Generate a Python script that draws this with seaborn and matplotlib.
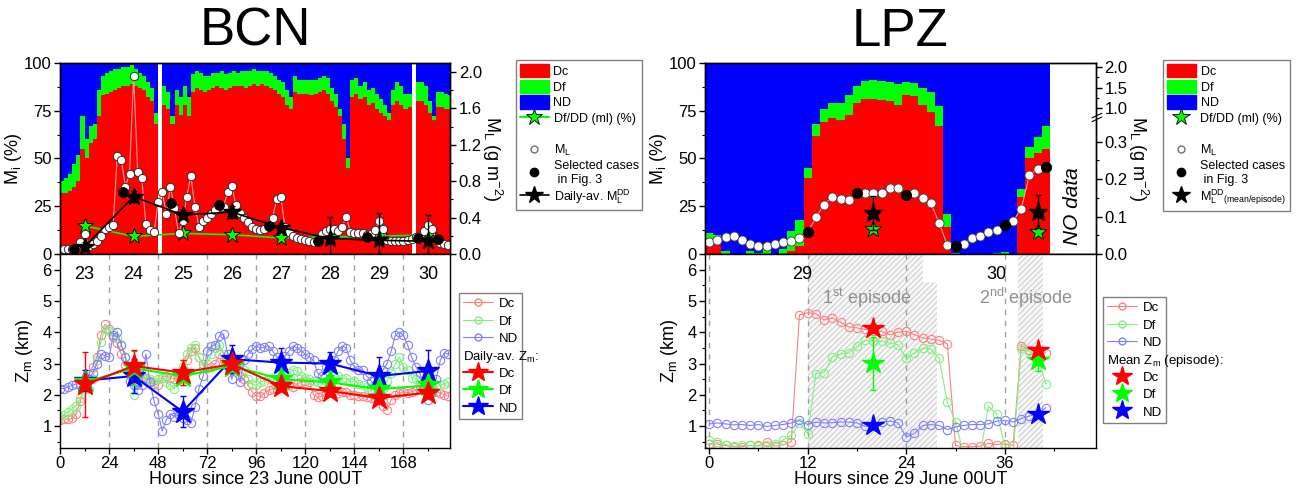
import numpy as np
import matplotlib
matplotlib.use('Agg')
import matplotlib.pyplot as plt
from matplotlib.patches import Patch
from matplotlib.lines import Line2D
from matplotlib.ticker import MultipleLocator, FixedLocator, FormatStrFormatter, NullFormatter
import seaborn as sns

nan = np.nan

# ---------------- BCN (2-hourly bins, hours since 23 June 00UT) ----------------
bcn_hours = np.arange(0, 192, 2)
bcn_dc = [32, 32, 33, 35, 38, 55, 50, 58, 60, 72, 83, 84,
          85, 86, 87, 88, 88, 89, 88, 87, 86, 82, 80, 68,
          nan, 78, 76, 68, 78, 73, 78, 72, 85, 87, 86, 85,
          86, 87, 88, 87, 86, 87, 88, 88, 88, 87, 88, 89,
          88, 89, 88, 87, 86, 84, 82, 78, 76, 85, 84, 84,
          84, 83, 84, 85, 86, 84, 80, 77, 72, 60, 45, 82,
          84, 81, 82, 78, 79, 76, 74, 72, 70, 78, 80, 78,
          76, 77, nan, 80, 80, 78, 74, 70, 77, 77, 76, 76]
bcn_df = [6, 8, 9, 12, 14, 17, 10, 9, 8, 14, 10, 11,
          11, 11, 10, 10, 10, 10, 9, 8, 7, 8, 7, 6,
          nan, 10, 9, 4, 8, 9, 10, 10, 9, 9, 9, 8,
          7, 8, 7, 9, 8, 8, 8, 7, 8, 9, 8, 8,
          8, 7, 8, 8, 7, 7, 8, 8, 6, 8, 7, 7,
          7, 8, 7, 7, 7, 8, 7, 7, 4, 8, 5, 9,
          8, 7, 8, 8, 8, 8, 7, 6, 4, 8, 10, 10,
          8, 7, nan, 10, 10, 10, 6, 2, 8, 8, 8, 7]
bcn_ml = [0.05, 0.05, 0.05, 0.05, 0.07, 0.13, 0.22, 0.09, 0.11, 0.14, 0.2, 0.27,
          0.3, 0.32, 1.08, 1.03, 0.74, 0.88, 1.96, 0.9, 0.83, 0.33, 0.26, 0.24,
          0.57, 0.68, 0.44, 0.74, 0.5, 0.23, 0.36, 0.63, 0.86, 0.52, 0.3, 0.36,
          0.4, 0.44, 0.48, 0.55, 0.52, 0.68, 0.75, 0.54, 0.45, 0.4, 0.35, 0.3,
          0.27, 0.26, 0.28, 0.33, 0.4, 0.6, 0.63, 0.3, 0.24, 0.2, 0.18, 0.16,
          0.15, 0.14, 0.13, 0.13, 0.22, 0.25, 0.27, 0.27, 0.25, 0.3, 0.41, 0.24,
          0.23, 0.23, 0.23, 0.21, 0.22, 0.26, 0.36, 0.28, 0.15, 0.14, 0.14, 0.14,
          0.14, 0.15, 0.17, 0.19, 0.2, 0.25, 0.32, 0.28, 0.16, 0.12, 0.11, 0.1]
bcn_sel_hours = [7, 31, 54.5, 78, 102, 126, 150, 175, 185]
bcn_sel_ml = [0.05, 0.68, 0.56, 0.54, 0.31, 0.14, 0.19, 0.18, 0.16]

bcn_day_hours = [12, 36, 60, 84, 108, 132, 156, 180]
bcn_day_labels = ['23', '24', '25', '26', '27', '28', '29', '30']
bcn_mldd = [0.08, 0.63, 0.43, 0.46, 0.29, 0.17, 0.15, 0.14]
bcn_mldd_err = [0.05, 0.06, 0.05, 0.07, 0.05, 0.24, 0.3, 0.29]
bcn_dfdd = [14.8, 9.2, 10.8, 10.1, 8.4, 9.0, 9.3, 10.0]

bcn_zm_dc = [1.2, 1.22, 1.22, 1.25, 1.4, 1.8, 2.4, 2.65, 2.9, 3.2, 3.9, 4.25,
             4.1, 3.85, 3.65, 3.3, 2.95, 2.8, 2.8, 2.7, 2.6, 2.55, 2.45, 2.35,
             2.3, 2.55, 2.6, 2.55, 2.5, 2.6, 2.8, 3.1, 3.4, 3.5, 3.2, 3.0,
             2.85, 2.9, 3.0, 3.3, 3.1, 2.9, 2.8, 2.85, 2.6, 2.5, 2.3, 2.1,
             1.97, 1.95, 2.05, 2.15, 2.2, 2.2, 2.25, 2.3, 2.3, 2.25, 2.35, 2.4,
             2.45, 2.4, 2.0, 1.92, 1.95, 2.05, 2.1, 2.12, 2.05, 2.1, 2.1, 2.0,
             2.0, 1.95, 1.95, 1.92, 1.9, 1.88, 1.85, 1.65, 1.5, 1.85, 2.0, 2.05,
             2.1, 2.05, 2.1, 2.15, 2.2, 2.15, 2.2, 2.1, 2.1, 2.05, 2.0, 1.95]
bcn_zm_df = [1.3, 1.35, 1.45, 1.55, 1.65, 1.9, 2.2, 2.2, 2.5, 3.1, 3.7, 4.1,
             4.05, 4.0, 3.8, 3.6, 3.2, 2.9, 2.0, 2.4, 2.6, 2.5, 2.5, 2.4,
             2.5, 2.55, 2.4, 2.3, 2.2, 2.5, 2.9, 3.3, 3.5, 3.6, 3.2, 2.9,
             3.0, 3.3, 3.5, 3.6, 3.3, 3.1, 2.9, 3.0, 3.0, 2.8, 2.5, 2.35,
             2.3, 2.4, 2.45, 2.5, 2.5, 2.45, 2.5, 2.6, 2.7, 2.8, 2.75, 2.6,
             2.55, 2.5, 2.45, 2.4, 2.35, 2.45, 2.5, 2.6, 2.6, 2.5, 2.55, 2.4,
             2.45, 2.35, 2.3, 2.25, 2.2, 2.15, 2.1, 2.2, 2.45, 2.7, 3.0, 3.2,
             2.9, 2.8, 2.55, 2.5, 2.4, 2.3, 2.2, 2.2, 2.25, 2.3, 2.35, 2.4]
bcn_zm_nd = [2.2, 2.2, 2.25, 2.3, 2.35, 2.35, 2.4, 2.5, 2.7, 3.0, 3.3, 3.25,
             3.2, 3.9, 4.0, 3.6, 3.2, 2.45, 2.3, 2.15, 2.3, 3.3, 2.4, 1.8,
             1.4, 0.85, 1.2, 1.4, 1.3, 1.35, 1.25, 1.2, 1.1, 1.6, 2.2, 2.6,
             3.4, 3.55, 3.6, 3.88, 3.94, 3.3, 2.5, 2.9, 2.4, 3.1, 3.3, 3.45,
             3.55, 3.5, 3.52, 3.56, 3.4, 3.2, 3.14, 3.25, 3.4, 3.56, 3.5, 3.4,
             3.3, 3.2, 3.1, 2.7, 2.6, 2.9, 2.85, 3.1, 3.4, 3.56, 3.5, 3.1,
             2.9, 2.8, 2.8, 2.6, 2.45, 2.3, 2.6, 2.8, 3.0, 3.4, 3.9, 4.0,
             3.9, 3.6, 3.2, 2.9, 2.7, 2.2, 1.85, 2.1, 2.5, 3.1, 3.35, 3.3]
bcn_day_dc = [2.33, 2.92, 2.71, 2.98, 2.28, 2.12, 1.9, 2.07]
bcn_day_dc_err = [1.03, 0.5, 0.4, 0.15, 0.15, 0.15, 0.15, 0.15]
bcn_day_df = [2.4, 2.85, 2.6, 2.92, 2.5, 2.4, 2.18, 2.3]
bcn_day_df_err = [0.2, 0.55, 0.2, 0.15, 0.2, 0.2, 0.2, 0.2]
bcn_day_nd = [2.45, 2.6, 1.46, 3.14, 3.03, 3.0, 2.6, 2.76]
bcn_day_nd_err = [0.33, 0.55, 0.5, 0.45, 0.47, 0.36, 0.62, 0.68]

# ---------------- LPZ (hourly, hours since 29 June 00UT) ----------------
lpz_hours = np.arange(0, 42)
lpz_dc = [4, 5, 0, 0, 0, 0, 0, 0, 0, 0,
          1.5, 4, 40, 62, 69, 71, 70, 73, 79, 81,
          81, 80.5, 80, 78, 83.5, 82.5, 78, 74.5, 67, 14,
          0, 0, 0, 0, 0, 0, 0, 0, 30, 50,
          53, 55]
lpz_df = [7, 5, 1.5, 0, 0, 1.5, 0.5, 3, 0, 2.5,
          10.5, 14, 5, 6, 7, 8, 9, 10, 9, 9.5,
          10, 10, 10, 11, 6.5, 7, 9, 10.5, 10.5, 7,
          0.7, 0, 0, 0, 0, 0.5, 1, 0, 4, 6,
          8, 12]
lpz_ml = [0.031, 0.038, 0.045, 0.047, 0.038, 0.027, 0.022, 0.022, 0.027, 0.031,
          0.035, 0.042, 0.058, 0.098, 0.132, 0.153, 0.146, 0.144, 0.162, 0.164,
          0.164, 0.162, 0.175, 0.177, 0.158, 0.162, 0.149, 0.135, 0.083, 0.023,
          0.022, 0.027, 0.042, 0.049, 0.058, 0.063, 0.078, 0.087, 0.121, 0.211,
          0.227, 0.233]
lpz_sel_hours = [12, 18, 24, 30, 36, 41]
lpz_sel_ml = [0.058, 0.162, 0.158, 0.022, 0.078, 0.233]

lpz_ep_hours = [20, 40]
lpz_mldd = [0.11, 0.113]
lpz_mldd_err = [0.045, 0.044]
lpz_dfdd = [13.1, 11.7]

lpz_zm_dc = [0.43, 0.43, 0.38, 0.34, 0.34, 0.38, 0.38, 0.48, 0.36, 0.4,
             0.5, 4.55, 4.62, 4.59, 4.39, 4.46, 4.32, 4.17, 4.14, 4.09,
             4.05, 4.03, 3.92, 4.0, 4.03, 3.92, 3.82, 3.78, 3.74, 3.63,
             0.38, 0.34, 0.34, 0.36, 0.45, 0.41, 0.43, 0.38, 3.57, 3.44,
             3.44, 3.33]
lpz_zm_df = [0.56, 0.48, 0.41, 0.36, 0.38, 0.38, 0.36, 0.38, 0.43, 0.56,
             0.7, 1.1, 0.75, 2.67, 2.71, 3.2, 3.31, 3.33, 3.55, 3.74,
             3.73, 3.71, 3.66, 3.6, 3.17, 3.33, 3.49, 3.46, 3.17, 1.77,
             1.13, 0.1, 0.1, 0.1, 1.63, 1.4, 0.38, 0.1, 3.49, 3.39,
             3.2, 2.34]
lpz_zm_nd = [1.07, 1.1, 1.07, 1.04, 1.05, 1.02, 1.05, 0.99, 1.02, 1.05,
             1.1, 1.18, 1.05, 1.13, 1.1, 1.11, 1.13, 1.13, 1.1, 0.99,
             1.0, 1.13, 1.16, 1.1, 0.65, 0.77, 1.02, 1.05, 1.02, 0.89,
             0.97, 1.02, 1.05, 1.05, 1.07, 1.16, 1.18, 1.13, 1.24, 1.32,
             1.4, 1.59]
lpz_ep_dc = [4.12, 3.44]
lpz_ep_dc_err = [0.15, 0.1]
lpz_ep_df = [3.01, 3.12]
lpz_ep_df_err = [0.85, 0.35]
lpz_ep_nd = [1.02, 1.38]
lpz_day_hours = [11.3, 35]
lpz_day_labels = ['29', '30']
episodes = [(12, 27.8), (37.6, 40.7)]

# ---------------- style ----------------
sns.set_style('ticks')
plt.rcParams['font.family'] = ['Liberation Sans', 'DejaVu Sans']
plt.rcParams['mathtext.fontset'] = 'custom'
plt.rcParams['mathtext.rm'] = 'Liberation Sans'
plt.rcParams['mathtext.it'] = 'Liberation Sans:italic'
plt.rcParams['mathtext.bf'] = 'Liberation Sans:bold'
plt.rcParams['axes.edgecolor'] = 'black'
plt.rcParams['axes.labelcolor'] = 'black'
plt.rcParams['text.color'] = 'black'
plt.rcParams['xtick.color'] = 'black'
plt.rcParams['ytick.color'] = 'black'
plt.rcParams['hatch.linewidth'] = 0.6

RED, GREEN, BLUE = '#FF0000', '#00FF00', '#0000FF'
LRED, LGREEN, LBLUE = '#FF8080', '#80F080', '#8080FF'
PINK = '#FF9999'

W, H = 1297, 490
fig = plt.figure(figsize=(W / 100, H / 100), dpi=100)


def style(ax):
    for s in ax.spines.values():
        s.set_linewidth(1.0)
        s.set_color('black')
    ax.tick_params(which='major', direction='out', length=4, width=1, labelsize=12, pad=2)
    ax.tick_params(which='minor', direction='out', length=2.5, width=0.8)


def box(l, t, r, b):
    return [l / W, 1 - b / H, (r - l) / W, (b - t) / H]


def legend(ax, handles, labels, x, y, fs=9, hh=1.0, ls=0.25):
    leg = ax.legend(handles, labels, loc='upper left', bbox_to_anchor=(x / W, 1 - y / H),
                    bbox_transform=fig.transFigure, borderaxespad=0, frameon=True,
                    fancybox=False, edgecolor='#808080', framealpha=1, fontsize=fs,
                    handlelength=2.3, handletextpad=0.4, borderpad=0.3,
                    handleheight=hh, labelspacing=ls)
    leg.get_frame().set_linewidth(1.0)
    return leg


def stacked(ax, x, dc, df, width, align):
    dc = np.asarray(dc, float)
    df = np.asarray(df, float)
    ax.bar(x, dc, width=width, align=align, color=RED, lw=0, antialiased=False)
    ax.bar(x, df, bottom=dc, width=width, align=align, color=GREEN, lw=0, antialiased=False)
    ax.bar(x, 100 - dc - df, bottom=dc + df, width=width, align=align, color=BLUE, lw=0,
           antialiased=False)


def zm_series(ax, x, y, c):
    sns.lineplot(x=x, y=y, ax=ax, color=c, lw=0.8, marker='o', markersize=6,
                 markerfacecolor='none', markeredgecolor=c, markeredgewidth=0.8)


LAB = 13

# ================= BCN top =================
ax = fig.add_axes(box(60, 63, 450.5, 254))
stacked(ax, bcn_hours, bcn_dc, bcn_df, 2.02, 'edge')
sns.lineplot(x=bcn_day_hours, y=bcn_dfdd, ax=ax, color=GREEN, lw=1.2, marker='*',
             markersize=12, markerfacecolor=GREEN, markeredgecolor='black',
             markeredgewidth=0.6, zorder=4)
ax.set_xlim(0, 191)
ax.set_ylim(0, 100)
ax.yaxis.set_major_locator(MultipleLocator(25))
ax.yaxis.set_minor_locator(MultipleLocator(12.5))
ax.xaxis.set_major_locator(MultipleLocator(24))
ax.xaxis.set_minor_locator(MultipleLocator(12))
ax.set_xticklabels([])
ax.set_ylabel('M$_\\mathrm{i}$ (%)', fontsize=LAB, labelpad=0)
style(ax)

ax2 = ax.twinx()
sns.lineplot(x=bcn_hours, y=bcn_ml, ax=ax2, color=PINK, lw=0.8, marker='o', markersize=6,
             markerfacecolor='white', markeredgecolor='#303030', markeredgewidth=0.7)
sns.scatterplot(x=bcn_sel_hours, y=bcn_sel_ml, ax=ax2, color='black', s=50,
                edgecolor='black', zorder=5)
ax2.errorbar(bcn_day_hours, bcn_mldd, yerr=bcn_mldd_err, color='black', lw=1.2,
             marker='*', ms=13, capsize=2, elinewidth=1, zorder=6)
ax2.set_xlim(0, 191)
ax2.set_ylim(0, 2.098)
ax2.yaxis.set_major_locator(MultipleLocator(0.4))
ax2.yaxis.set_minor_locator(MultipleLocator(0.2))
ax2.yaxis.set_major_formatter(FormatStrFormatter('%.1f'))
ax2.set_ylabel('M$_\\mathrm{L}$ (g m$^{-2}$)', fontsize=LAB, rotation=270, labelpad=16)
style(ax2)

legend(ax2,
       [Patch(color=RED), Patch(color=GREEN), Patch(color=BLUE),
        Line2D([], [], color=GREEN, marker='*', ms=12, mfc=GREEN, mec='black', mew=0.6),
        Line2D([], [], color='none'),
        Line2D([], [], ls='none', marker='o', ms=5, mfc='white', mec='#707070'),
        Line2D([], [], ls='none', marker='o', ms=6, color='black'),
        Line2D([], [], color='black', marker='*', ms=13, lw=1.2)],
       ['Dc', 'Df', 'ND', 'Df/DD (ml) (%)', ' ', 'M$_\\mathrm{L}$',
        'Selected cases\n in Fig. 3', 'Daily-av. M$_\\mathrm{L}^\\mathrm{DD}$'],
       516, 60, fs=9, hh=1.3, ls=0.15)

fig.text(255 / W, 1 - 32 / H, 'BCN', fontsize=38, ha='center', va='center')

# ================= BCN bottom =================
axb = fig.add_axes(box(60, 254, 450.5, 448))
for h in bcn_day_hours:
    axb.axvline(h + 12, color='#A0A0A0', ls=(0, (4, 4)), lw=1, zorder=0)
zm_series(axb, bcn_hours, bcn_zm_dc, LRED)
zm_series(axb, bcn_hours, bcn_zm_df, LGREEN)
zm_series(axb, bcn_hours, bcn_zm_nd, LBLUE)
for vals, err, c in [(bcn_day_nd, bcn_day_nd_err, BLUE), (bcn_day_df, bcn_day_df_err, GREEN),
                     (bcn_day_dc, bcn_day_dc_err, RED)]:
    axb.errorbar(bcn_day_hours, vals, yerr=err, color=c, lw=1.5, marker='*', ms=17,
                 capsize=2, elinewidth=1, zorder=5)
for h, lab in zip(bcn_day_hours, bcn_day_labels):
    axb.text(h, 5.85, lab, ha='center', va='center', fontsize=13)
axb.set_xlim(0, 191)
axb.set_ylim(0.3, 6.5)
axb.xaxis.set_major_locator(MultipleLocator(24))
axb.xaxis.set_minor_locator(MultipleLocator(12))
axb.yaxis.set_major_locator(MultipleLocator(1))
axb.yaxis.set_minor_locator(MultipleLocator(0.5))
axb.set_xlabel('Hours since 23 June 00UT', fontsize=LAB, labelpad=0)
axb.set_ylabel('Z$_\\mathrm{m}$ (km)', fontsize=LAB, labelpad=5)
style(axb)

leg_b = legend(axb,
               [Line2D([], [], color=LRED, marker='o', ms=5, mfc='none', lw=0.8),
                Line2D([], [], color=LGREEN, marker='o', ms=5, mfc='none', lw=0.8),
                Line2D([], [], color=LBLUE, marker='o', ms=5, mfc='none', lw=0.8),
                Line2D([], [], color='none'),
                Line2D([], [], color=RED, marker='*', ms=15, lw=1.5),
                Line2D([], [], color=GREEN, marker='*', ms=15, lw=1.5),
                Line2D([], [], color=BLUE, marker='*', ms=15, lw=1.5)],
               ['Dc', 'Df', 'ND', ' ', 'Dc', 'Df', 'ND'], 459, 293, fs=9.5, hh=1.0, ls=0.3)

# ================= LPZ top =================
axl = fig.add_axes(box(705, 63, 1096, 254))
stacked(axl, lpz_hours, lpz_dc, lpz_df, 1.02, 'center')
sns.scatterplot(x=lpz_ep_hours, y=lpz_dfdd, ax=axl, marker='*', s=170, color=GREEN,
                edgecolor='black', linewidth=0.6, zorder=4)
axl.text(44.3, 25, 'NO data', rotation=90, ha='center', va='center', fontsize=15,
         style='italic')
axl.set_xlim(-0.5, 47.1)
axl.set_ylim(0, 100)
axl.yaxis.set_major_locator(MultipleLocator(25))
axl.yaxis.set_minor_locator(MultipleLocator(12.5))
axl.xaxis.set_major_locator(MultipleLocator(12))
axl.xaxis.set_minor_locator(MultipleLocator(6))
axl.set_xticklabels([])
axl.set_ylabel('M$_\\mathrm{i}$ (%)', fontsize=LAB, labelpad=0)
style(axl)

knots_v = [-1, 0, 0.35, 1.0, 3.0]
knots_u = [-3.75, 0, 1.3125, 1.46, 2.28]


def fwd(v):
    return np.interp(v, knots_v, knots_u)


def inv(u):
    return np.interp(u, knots_u, knots_v)


axl2 = axl.twinx()
axl2.set_yscale('function', functions=(fwd, inv))
sns.lineplot(x=lpz_hours, y=lpz_ml, ax=axl2, color=PINK, lw=0.8, marker='o', markersize=6.5,
             markerfacecolor='white', markeredgecolor='#404040', markeredgewidth=0.6)
sns.scatterplot(x=lpz_sel_hours, y=lpz_sel_ml, ax=axl2, color='black', s=55,
                edgecolor='black', zorder=5)
axl2.errorbar(lpz_ep_hours, lpz_mldd, yerr=lpz_mldd_err, color='black', ls='none',
              marker='*', ms=14, capsize=2, elinewidth=1, zorder=6)
axl2.set_xlim(-0.5, 47.1)
axl2.set_ylim(0, 2.098)
axl2.yaxis.set_major_locator(FixedLocator([0, 0.1, 0.2, 0.3, 1.0, 1.5, 2.0]))
axl2.yaxis.set_minor_locator(FixedLocator([0.05, 0.15, 0.25, 1.25, 1.75]))
axl2.yaxis.set_major_formatter(FormatStrFormatter('%.1f'))
axl2.yaxis.set_minor_formatter(NullFormatter())
axl2.set_ylabel('M$_\\mathrm{L}$ (g m$^{-2}$)', fontsize=LAB, rotation=270, labelpad=16)
style(axl2)
for yb in (0.705, 0.725):
    axl2.plot([0.99, 1.015], [yb - 0.012, yb + 0.012], transform=axl2.transAxes,
              color='black', lw=0.8, clip_on=False, zorder=10)

legend(axl2,
       [Patch(color=RED), Patch(color=GREEN), Patch(color=BLUE),
        Line2D([], [], ls='none', marker='*', ms=13, mfc=GREEN, mec='black', mew=0.6),
        Line2D([], [], color='none'),
        Line2D([], [], ls='none', marker='o', ms=5, mfc='white', mec='#707070'),
        Line2D([], [], ls='none', marker='o', ms=6, color='black'),
        Line2D([], [], ls='none', color='black', marker='*', ms=13)],
       ['Dc', 'Df', 'ND', 'Df/DD (ml) (%)', ' ', 'M$_\\mathrm{L}$',
        'Selected cases\n in Fig. 3',
        'M$_\\mathrm{L}^\\mathrm{DD}$$_{\\mathrm{(mean/episode)}}$'],
       1163, 60, fs=9, hh=1.3, ls=0.15)

fig.text(900 / W, 1 - 32 / H, 'LPZ', fontsize=38, ha='center', va='center')

# ================= LPZ bottom =================
axlb = fig.add_axes(box(705, 254, 1096, 448))
for a, b in episodes:
    axlb.axvspan(a, b, facecolor='#F7F7F7', edgecolor='#C4C4C4', hatch='//////', lw=0,
                 zorder=0)
axlb.axvspan(26, 27.8, ymin=0.863, ymax=1, color='white', zorder=0.5)
for h in [0, 12, 24, 36]:
    axlb.axvline(h, color='#A0A0A0', ls=(0, (4, 4)), lw=1, zorder=1)
zm_series(axlb, lpz_hours, lpz_zm_dc, LRED)
zm_series(axlb, lpz_hours, lpz_zm_df, LGREEN)
zm_series(axlb, lpz_hours, lpz_zm_nd, LBLUE)
axlb.errorbar(lpz_ep_hours, lpz_ep_nd, color=BLUE, ls='none', marker='*', ms=16, zorder=5)
axlb.errorbar(lpz_ep_hours, lpz_ep_df, yerr=lpz_ep_df_err, color=GREEN, ls='none',
              marker='*', ms=16, capsize=2, elinewidth=1, zorder=5)
axlb.errorbar(lpz_ep_hours, lpz_ep_dc, yerr=lpz_ep_dc_err, color=RED, ls='none',
              marker='*', ms=16, capsize=2, elinewidth=1, zorder=5)
for h, lab in zip(lpz_day_hours, lpz_day_labels):
    axlb.text(h, 5.85, lab, ha='center', va='center', fontsize=13)
axlb.text(19.2, 5.1, '1$^{\\mathrm{st}}$ episode', ha='center', va='center', fontsize=13,
          color='#909090')
axlb.text(38.6, 5.1, '2$^{\\mathrm{nd}}$ episode', ha='center', va='center', fontsize=13,
          color='#909090')
axlb.set_xlim(-0.5, 47.1)
axlb.set_ylim(0.3, 6.5)
axlb.xaxis.set_major_locator(MultipleLocator(12))
axlb.xaxis.set_minor_locator(MultipleLocator(6))
axlb.yaxis.set_major_locator(MultipleLocator(1))
axlb.yaxis.set_minor_locator(MultipleLocator(0.5))
axlb.set_xlabel('Hours since 29 June 00UT', fontsize=LAB, labelpad=0)
axlb.set_ylabel('Z$_\\mathrm{m}$ (km)', fontsize=LAB, labelpad=5)
style(axlb)

leg_lb = legend(axlb,
                [Line2D([], [], color=LRED, marker='o', ms=5, mfc='none', lw=0.8),
                 Line2D([], [], color=LGREEN, marker='o', ms=5, mfc='none', lw=0.8),
                 Line2D([], [], color=LBLUE, marker='o', ms=5, mfc='none', lw=0.8),
                 Line2D([], [], color='none'),
                 Line2D([], [], ls='none', color=RED, marker='*', ms=15),
                 Line2D([], [], ls='none', color=GREEN, marker='*', ms=15),
                 Line2D([], [], ls='none', color=BLUE, marker='*', ms=15)],
                ['Dc', 'Df', 'ND', ' ', 'Dc', 'Df', 'ND'], 1103, 297, fs=9.5, hh=1.0, ls=0.3)

# header lines inside the Zm legends
fig.canvas.draw()
rend = fig.canvas.get_renderer()
inv_fig = fig.transFigure.inverted()
for leg, txt in [(leg_b, 'Daily-av. Z$_\\mathrm{m}$:'), (leg_lb, 'Mean Z$_\\mathrm{m}$ (episode):')]:
    tb = leg.get_texts()[3].get_window_extent(rend)
    fb = leg.get_frame().get_window_extent(rend)
    fx, fy = inv_fig.transform((fb.x0 + 4, (tb.y0 + tb.y1) / 2))
    fig.text(fx, fy, txt, fontsize=9.5, ha='left', va='center')

fig.savefig('out.png', dpi=100)
